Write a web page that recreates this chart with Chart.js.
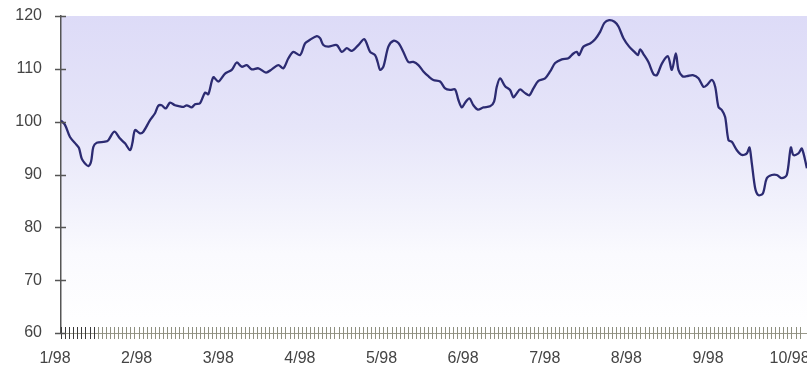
<!DOCTYPE html>
<html>
<head>
<meta charset="utf-8">
<script src="https://cdn.jsdelivr.net/npm/chart.js@4/dist/chart.umd.min.js"></script>
<style>
html, body { margin: 0; padding: 0; background: #fff; }
</style>
</head>
<body>
<canvas id="indexChart" width="807" height="371"></canvas>
<script>
// month tick labels, one per whole month on the x scale
const monthLabels = ['1/98', '2/98', '3/98', '4/98', '5/98', '6/98', '7/98', '8/98', '9/98', '10/98'];

// position of each reading, in months since 1/98
const monthPos = [
    0.000, 0.049, 0.110, 0.192, 0.221, 0.254, 0.294, 0.335, 0.368, 0.396,
    0.438, 0.539, 0.580, 0.653, 0.723, 0.784, 0.846, 0.874, 0.907, 0.968,
    1.009, 1.091, 1.152, 1.192, 1.234, 1.283, 1.336, 1.397, 1.458, 1.499,
    1.540, 1.602, 1.642, 1.703, 1.765, 1.805, 1.866, 1.928, 2.010, 2.092,
    2.153, 2.214, 2.276, 2.337, 2.418, 2.512, 2.582, 2.663, 2.724, 2.786,
    2.847, 2.929, 2.990, 3.051, 3.134, 3.174, 3.214, 3.276, 3.379, 3.440,
    3.501, 3.563, 3.643, 3.717, 3.787, 3.848, 3.881, 3.909, 3.950, 4.011,
    4.072, 4.134, 4.195, 4.256, 4.317, 4.379, 4.440, 4.501, 4.562, 4.645,
    4.706, 4.767, 4.828, 4.869, 4.911, 4.951, 5.004, 5.053, 5.107, 5.175,
    5.257, 5.306, 5.339, 5.380, 5.441, 5.502, 5.543, 5.585, 5.625, 5.686,
    5.739, 5.788, 5.849, 5.931, 5.993, 6.054, 6.136, 6.217, 6.278, 6.320,
    6.348, 6.401, 6.483, 6.544, 6.605, 6.658, 6.716, 6.781, 6.830, 6.891,
    6.961, 7.026, 7.068, 7.096, 7.136, 7.197, 7.259, 7.300, 7.362, 7.435,
    7.484, 7.533, 7.565, 7.614, 7.668, 7.741, 7.810, 7.871, 7.913, 7.974,
    8.015, 8.055, 8.097, 8.137, 8.178, 8.219, 8.281, 8.342, 8.403, 8.435,
    8.464, 8.505, 8.543, 8.599, 8.647, 8.708, 8.770, 8.831, 8.892, 8.942,
    8.973, 9.035, 9.077, 9.139
];

// index level
const indexValues = [
    100.2, 99.4, 97.1, 95.6, 95.0, 93.0, 92.1, 91.6, 92.4, 95.2,
    96.0, 96.2, 96.5, 98.1, 96.8, 95.9, 94.6, 95.9, 98.4, 97.8,
    98.1, 100.3, 101.6, 103.0, 103.1, 102.5, 103.6, 103.1, 102.9, 102.8,
    103.1, 102.7, 103.3, 103.5, 105.5, 105.2, 108.4, 107.6, 109.1, 109.8,
    111.2, 110.4, 110.7, 109.9, 110.1, 109.3, 109.9, 110.7, 110.1, 112.0,
    113.2, 112.6, 114.8, 115.5, 116.2, 115.8, 114.5, 114.2, 114.5, 113.2,
    113.9, 113.4, 114.5, 115.6, 113.2, 112.6, 111.2, 109.8, 110.4, 114.2,
    115.3, 114.9, 113.2, 111.3, 111.3, 110.7, 109.5, 108.6, 107.9, 107.6,
    106.3, 106.0, 106.1, 104.1, 102.7, 103.6, 104.4, 103.1, 102.3, 102.7,
    102.9, 103.8, 106.6, 108.2, 106.7, 106.0, 104.6, 105.4, 106.1, 105.4,
    105.0, 106.3, 107.7, 108.2, 109.5, 111.1, 111.8, 112.0, 112.9, 113.2,
    112.6, 114.2, 114.8, 115.6, 117.0, 118.7, 119.2, 118.9, 118.0, 115.8,
    114.2, 113.2, 112.6, 113.7, 112.8, 111.3, 109.0, 108.8, 111.0, 112.4,
    109.8, 112.9, 109.8, 108.6, 108.6, 108.8, 108.2, 106.6, 106.9, 107.9,
    106.6, 102.8, 102.2, 100.9, 96.5, 96.2, 94.6, 93.7, 94.0, 95.1,
    92.1, 87.4, 86.1, 86.4, 89.3, 89.9, 89.9, 89.3, 89.9, 95.1,
    93.7, 94.0, 94.9, 91.2
];

const points = monthPos.map((m, i) => ({ x: m, y: indexValues[i] }));

// lavender wash behind the plot
const plotBackground = {
    id: 'plotBackground',
    beforeDraw(chart) {
        const { ctx, chartArea: a } = chart;
        const g = ctx.createLinearGradient(0, a.top, 0, a.bottom);
        g.addColorStop(0, 'rgb(221,219,247)');
        g.addColorStop(0.35, 'rgb(230,229,249)');
        g.addColorStop(0.6, 'rgb(242,242,252)');
        g.addColorStop(0.75, 'rgb(250,250,254)');
        g.addColorStop(1, '#ffffff');
        ctx.save();
        ctx.fillStyle = g;
        ctx.fillRect(a.left, a.top, a.right - a.left, a.bottom - a.top);
        ctx.restore();
    }
};

// small marks that cross the axis lines
const crossTicks = {
    id: 'crossTicks',
    afterDraw(chart) {
        const { ctx, chartArea: a, scales } = chart;
        ctx.save();
        ctx.lineWidth = 1;
        scales.x.ticks.forEach(t => {
            const px = Math.round(scales.x.getPixelForValue(t.value)) + 0.5;
            ctx.strokeStyle = t.value < 0.45 ? '#3a3a3a' : '#8e8f80';
            ctx.beginPath();
            ctx.moveTo(px, a.bottom - 6);
            ctx.lineTo(px, a.bottom + 6);
            ctx.stroke();
        });
        ctx.strokeStyle = '#555';
        ctx.lineWidth = 1.5;
        scales.y.ticks.forEach(t => {
            const py = Math.round(scales.y.getPixelForValue(t.value)) + 0.5;
            ctx.beginPath();
            ctx.moveTo(a.left - 6, py);
            ctx.lineTo(a.left + 5, py);
            ctx.stroke();
        });
        ctx.restore();
    }
};

new Chart(document.getElementById('indexChart'), {
    type: 'line',
    data: {
        datasets: [{
            data: points,
            borderColor: '#2c2b72',
            borderWidth: 2.3,
            pointRadius: 0,
            tension: 0.3,
            fill: false
        }]
    },
    options: {
        responsive: false,
        animation: false,
        layout: { padding: { top: 16, right: 0, left: 0, bottom: 0 } },
        plugins: {
            legend: { display: false },
            tooltip: { enabled: false }
        },
        scales: {
            x: {
                type: 'linear',
                min: 0,
                max: 9.14,
                afterFit: s => { s.height = 38; s.paddingLeft = 0; s.paddingRight = 0; },
                grid: { display: false, drawTicks: false },
                border: { display: true, color: '#9a9a8c', width: 1 },
                ticks: {
                    stepSize: 0.05,
                    autoSkip: false,
                    maxRotation: 0,
                    padding: 16,
                    labelOffset: -6,
                    color: '#444',
                    font: { family: 'Liberation Sans, Arial, sans-serif', size: 16 },
                    callback: v => {
                        const r = Math.round(v);
                        return Math.abs(v - r) < 1e-6 && monthLabels[r] ? monthLabels[r] : '';
                    }
                }
            },
            y: {
                min: 60,
                max: 120,
                afterFit: s => { s.width = 61; s.paddingTop = 0; s.paddingBottom = 0; },
                grid: { display: false, drawTicks: false },
                border: { display: true, color: '#555', width: 1.5 },
                ticks: {
                    stepSize: 10,
                    padding: 19,
                    color: '#444',
                    font: { family: 'Liberation Sans, Arial, sans-serif', size: 16 }
                }
            }
        }
    },
    plugins: [plotBackground, crossTicks]
});
</script>
</body>
</html>
